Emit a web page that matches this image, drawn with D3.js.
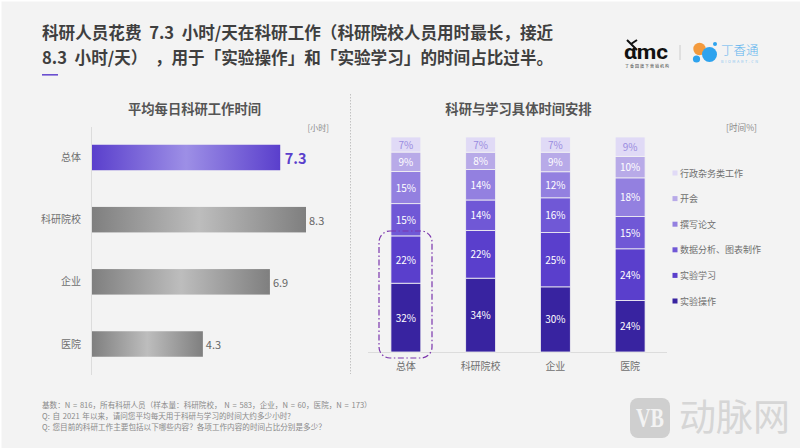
<!DOCTYPE html>
<html>
<head>
<meta charset="utf-8">
<script src="https://cdn.jsdelivr.net/npm/d3@7"></script>
<style>
html,body{margin:0;padding:0;background:#f3f3f3;}
svg{display:block;}
text{font-family:"Noto Sans CJK SC","Noto Sans",sans-serif;}
</style>
</head>
<body>
<svg id="chart" width="800" height="448"></svg>
<script>
var titleLines = ["科研人员花费 7.3 小时/天在科研工作（科研院校人员用时最长，接近","8.3 小时/天） ，用于「实验操作」和「实验学习」的时间占比过半。"];
var footLines = ["基数：N = 816，所有科研人员（样本量：科研院校， N = 583，企业，N = 60，医院，N = 173）","Q:  自 2021 年以来，请问您平均每天用于科研与学习的时间大约多少小时?","Q:  您目前的科研工作主要包括以下哪些内容？各项工作内容的时间占比分别是多少？"];

var categories = ["总体","科研院校","企业","医院"];
var hours = [7.3,8.3,6.9,4.3];

var series = ["实验操作","实验学习","数据分析、图表制作","撰写论文","开会","行政杂务类工作"];
var seriesColors = ["#3823a0","#5a3fcc","#7058d6","#9380e0","#b8aae8","#e0daf6"];
var labelColors = ["#fff","#fff","#fff","#fff","#fff","#9a8ce0"];
var shares = [
	[32,34,30,24],
	[22,22,25,24],
	[15,14,16,15],
	[15,14,12,18],
	[9,8,9,10],
	[7,7,7,9]
];

var svg = d3.select("#chart");
var defs = svg.append("defs");

function barGradient(id,edge,mid){
	var g = defs.append("linearGradient").attr("id",id);
	g.append("stop").attr("offset","0%").attr("stop-color",edge);
	g.append("stop").attr("offset","50%").attr("stop-color",mid);
	g.append("stop").attr("offset","100%").attr("stop-color",edge);
}
barGradient("gradMain","#5a3fcc","#9d8fe6");
barGradient("gradGrey","#7f7f7f","#bdbdbd");

svg.append("rect").attr("width",800).attr("height",448).attr("fill","#f3f3f3");
svg.append("rect").attr("x",0).attr("y",0).attr("width",800).attr("height",1.5).attr("fill","#fff");
svg.append("rect").attr("x",0).attr("y",0).attr("width",1.5).attr("height",448).attr("fill","#fff");

// title
svg.append("g").selectAll("text").data(titleLines).enter().append("text")
	.attr("x",42)
	.attr("y",function(d,i){return 39+i*25})
	.attr("font-size",16.6)
	.attr("font-weight",700)
	.attr("fill","#3f3f3f")
	.style("word-spacing","3.8px")
	.style("white-space","pre")
	.text(function(d){return d});
svg.append("rect").attr("x",42).attr("y",74).attr("width",16).attr("height",1.6).attr("fill","#6a4fd0");

// panel titles
svg.append("text").attr("x",194.5).attr("y",114).attr("text-anchor","middle")
	.attr("font-size",13.3).attr("font-weight",700).attr("fill","#555").text("平均每日科研工作时间");
svg.append("text").attr("x",518.5).attr("y",114).attr("text-anchor","middle")
	.attr("font-size",13.3).attr("font-weight",700).attr("fill","#555").text("科研与学习具体时间安排");
svg.append("text").attr("x",329).attr("y",131).attr("text-anchor","end")
	.attr("font-size",8).attr("fill","#8a8a8a").text("[小时]");
svg.append("text").attr("x",757).attr("y",131).attr("text-anchor","end")
	.attr("font-size",8.6).attr("fill","#8a8a8a").text("[时间%]");

// divider
svg.append("line").attr("x1",350.5).attr("x2",350.5).attr("y1",94).attr("y2",374)
	.attr("stroke","#b5b5b5").attr("stroke-width",0.8).attr("stroke-dasharray","1.5,1.5");

// left bars
var xHours = d3.scaleLinear().domain([0,8.3]).range([92,306]);
var yHours = d3.scalePoint().domain(categories).range([157.5,344]);
var barH = 25.5;

svg.append("line").attr("x1",91.5).attr("x2",91.5).attr("y1",127).attr("y2",375)
	.attr("stroke","#dcdcdc").attr("stroke-width",1);

var hourRows = svg.append("g").selectAll("g").data(categories).enter().append("g");
hourRows.append("rect")
	.attr("x",xHours(0))
	.attr("y",function(d){return yHours(d)-barH/2})
	.attr("width",function(d,i){return xHours(hours[i])-xHours(0)})
	.attr("height",barH)
	.attr("fill",function(d,i){return i==0?"url(#gradMain)":"url(#gradGrey)"});
hourRows.append("text")
	.attr("x",81).attr("y",function(d){return yHours(d)+3.5})
	.attr("text-anchor","end").attr("font-size",10).attr("fill","#6f6f6f")
	.text(function(d){return d});
hourRows.append("text")
	.attr("x",function(d,i){return xHours(hours[i])+(i==0?4.5:3)})
	.attr("y",function(d,i){return yHours(d)+(i==0?6:5)})
	.attr("font-size",function(d,i){return i==0?14.5:11})
	.attr("font-weight",function(d,i){return i==0?700:400})
	.attr("fill",function(d,i){return i==0?"#5a3fcc":"#666"})
	.text(function(d,i){return hours[i].toFixed(1)});

// stacked bars
var stackRows = categories.map(function(c,ci){
	var row = {category:c};
	series.forEach(function(s,si){row[s] = shares[si][ci]});
	return row;
});
var stacked = d3.stack().keys(series).offset(d3.stackOffsetExpand)(stackRows);
var xStack = d3.scaleBand().domain(categories).range([368.5,667.5]).paddingInner(0.6).paddingOuter(0.3);
var yStack = d3.scaleLinear().domain([0,1]).range([352,137]);

svg.append("line").attr("x1",368).attr("x2",667).attr("y1",352.5).attr("y2",352.5)
	.attr("stroke","#dcdcdc").attr("stroke-width",1);

var layers = svg.append("g").selectAll("g").data(stacked).enter().append("g");
layers.selectAll("rect").data(function(d){return d}).enter().append("rect")
	.attr("x",function(d){return xStack(d.data.category)})
	.attr("y",function(d){return yStack(d[1])})
	.attr("width",xStack.bandwidth())
	.attr("height",function(d){return yStack(d[0])-yStack(d[1])})
	.attr("fill",function(d){return seriesColors[stacked.findIndex(function(l){return l.includes(d)})]})
	.attr("stroke","#f3f3f3").attr("stroke-width",0.8);
layers.each(function(layer,li){
	d3.select(this).selectAll("text").data(layer).enter().append("text")
		.attr("x",function(d){return xStack(d.data.category)+xStack.bandwidth()/2})
		.attr("y",function(d){return (yStack(d[0])+yStack(d[1]))/2+4})
		.attr("text-anchor","middle").attr("font-size",10)
		.attr("fill",labelColors[li])
		.text(function(d){return d.data[layer.key]+"%"});
});

svg.append("g").selectAll("text").data(categories).enter().append("text")
	.attr("x",function(d){return xStack(d)+xStack.bandwidth()/2})
	.attr("y",370).attr("text-anchor","middle").attr("font-size",10).attr("fill","#6f6f6f")
	.text(function(d){return d});

// highlight box round the first column
svg.append("rect").attr("x",379).attr("y",231).attr("width",53).attr("height",127).attr("rx",11)
	.attr("fill","none").attr("stroke","#7b35ad").attr("stroke-width",1.2).attr("stroke-dasharray","6,2.5,1.5,2.5");

// legend
var yLegend = d3.scalePoint().domain(series).range([301,173]);
var legend = svg.append("g").selectAll("g").data(series).enter().append("g");
legend.append("rect")
	.attr("x",672.5).attr("y",function(d){return yLegend(d)-2.5})
	.attr("width",5).attr("height",5)
	.attr("fill",function(d,i){return seriesColors[i]});
legend.append("text")
	.attr("x",680).attr("y",function(d){return yLegend(d)+3.5})
	.attr("font-size",9).attr("fill","#6f6f6f")
	.text(function(d){return d});

// footnotes
svg.append("g").selectAll("text").data(footLines).enter().append("text")
	.attr("x",42).attr("y",function(d,i){return 408+i*11})
	.attr("font-size",7.6).attr("fill","#8a8a8a")
	.style("word-spacing","1px")
	.text(function(d){return d});

// logos
var logo = svg.append("g");
logo.append("text").attr("x",624).attr("y",59).attr("font-size",20).attr("font-weight",700).attr("fill","#111")
	.style("font-family","Roboto").attr("textLength",44).attr("lengthAdjust","spacingAndGlyphs").text("αmc");
logo.append("text").attr("x",625).attr("y",68).attr("font-size",4).attr("fill","#333")
	.attr("textLength",44).text("丁香园旗下营销机构");
logo.append("path").attr("d","M627 40 L637 50 M637 40 L631 44").attr("stroke","#111").attr("stroke-width",2).attr("fill","none");
logo.append("line").attr("x1",680).attr("x2",680).attr("y1",45).attr("y2",60).attr("stroke","#ccc").attr("stroke-width",1);
logo.append("circle").attr("cx",699.5).attr("cy",49).attr("r",6.2).attr("fill","#f39a3d");
logo.append("circle").attr("cx",709.5).attr("cy",54.5).attr("r",7.5).attr("fill","#2ea3ee");
logo.append("circle").attr("cx",696.5).attr("cy",59).attr("r",3.6).attr("fill","#2ea3ee");
logo.append("circle").attr("cx",715).attr("cy",44).attr("r",2).attr("fill","#2ea3ee");
logo.append("text").attr("x",721).attr("y",55).attr("font-size",12.5).attr("font-weight",300).attr("fill","#5fb4ee").text("丁香通");
logo.append("text").attr("x",721).attr("y",62.5).attr("font-size",3.8).attr("fill","#8cc6f0").attr("textLength",37).text("BIOMART.CN");

// watermark
var mark = svg.append("g");
mark.append("rect").attr("x",630).attr("y",398).attr("width",40).attr("height",40).attr("rx",8).attr("fill","#cfcfcf");
mark.append("text").attr("x",636).attr("y",427).attr("font-size",27).attr("font-weight",700)
	.attr("fill","#f3f3f3").style("font-family","Liberation Serif")
	.attr("textLength",28).attr("lengthAdjust","spacingAndGlyphs").text("VB");
mark.append("text").attr("x",679).attr("y",431).attr("font-size",37).attr("fill","#d6d6d6")
	.attr("textLength",111).text("动脉网");
</script>
</body>
</html>
